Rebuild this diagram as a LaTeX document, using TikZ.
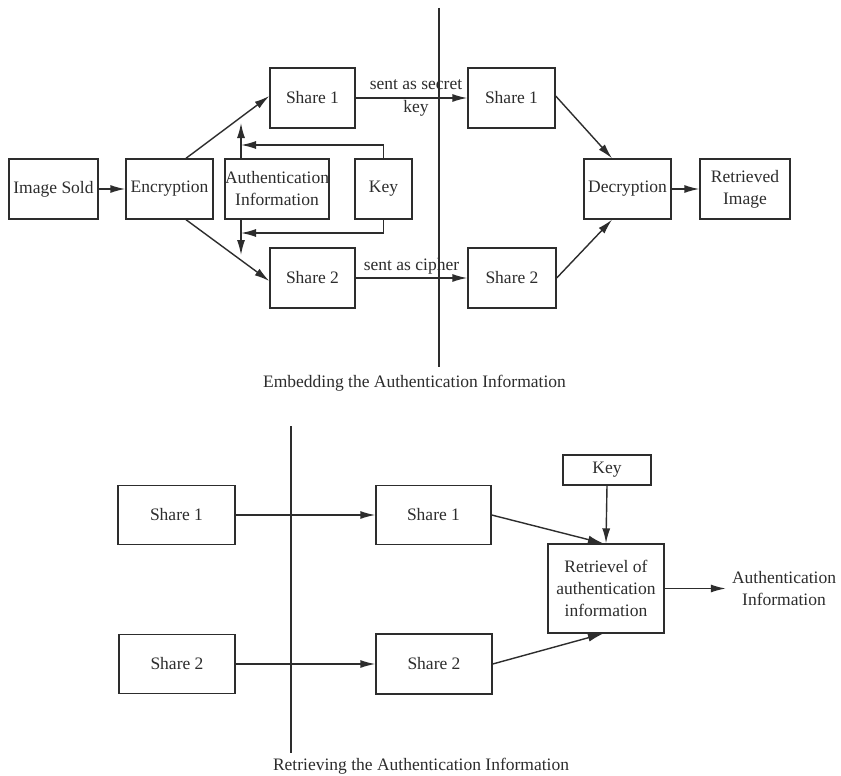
\documentclass[tikz,border=0pt]{standalone}
\usepackage{fontspec}
\setmainfont{Liberation Serif}
\usetikzlibrary{arrows.meta}
\definecolor{ink}{RGB}{45,45,45}
\begin{document}
\begin{tikzpicture}[x=1pt,y=-1pt,
  every node/.style={font=\fontsize{17.5}{22}\selectfont, text=ink},
  box/.style={draw=ink, line width=1.4pt, inner sep=0pt, align=center, minimum height=60pt},
  arr/.style={draw=ink, line width=1.4pt, -{Latex[length=15pt,width=8pt]}},
  divider/.style={draw=ink, line width=1.3pt},
  lbl/.style={inner sep=0pt, align=center},
  captext/.style={inner sep=0pt, font=\fontsize{17.5}{22}\selectfont}]
\useasboundingbox (0,0) rectangle (841,776);
\fill[white] (0,0) rectangle (841,776);

% ---------- top part ----------
\node[box, minimum width=89pt] (imgsold) at (53.5,189) {Image Sold};
\node[box, minimum width=87pt] (enc) at (169.5,189) {Encryption};
\node[box, minimum width=100pt] (auth) at (277,189) {Authentication\\Information};
\node[box, minimum width=57pt] (key1) at (383.5,189) {Key};
\node[box, minimum width=85pt] (s1a) at (312.5,98) {Share 1};
\node[box, minimum width=85pt] (s2a) at (312.5,278) {Share 2};
\node[box, minimum width=87pt] (s1b) at (511.5,98) {Share 1};
\node[box, minimum width=88pt] (s2b) at (512,278) {Share 2};
\node[box, minimum width=87pt] (dec) at (627.5,189) {Decryption};
\node[box, minimum width=90pt] (ret) at (745,189) {Retrieved\\Image};

\coordinate (vt1) at (439,8);
\coordinate (vb1) at (439,367);
\draw[divider] (vt1) -- (vb1);

\coordinate (aup) at (241,123);
\coordinate (adn) at (241,255);
\coordinate (ktop) at (241,145);
\coordinate (kbot) at (241,233);

\draw[arr] (imgsold.east) -- (enc.west);
\draw[arr] ([xshift=16.5pt]enc.north) -- ([yshift=2pt]s1a.west);
\draw[arr] ([xshift=16.5pt]enc.south) -- ([yshift=-3pt]s2a.west);
\draw[arr] (auth.north -| aup) -- (aup);
\draw[arr] (auth.south -| adn) -- (adn);
\draw[arr] (key1.north) |- (ktop);
\draw[arr] (key1.south) |- (kbot);

\draw[arr] (s1a.east) -- node[lbl, pos=0.54] {sent as secret\\[1pt]key} (s1b.west);
\draw[arr] (s2a.east) -- node[lbl, pos=0.5, above=3pt] {sent as cipher} (s2b.west);
\draw[arr] ([yshift=2pt]s1b.east) -- ([xshift=-15.5pt]dec.north);
\draw[arr] (s2b.east) -- ([xshift=-15.5pt]dec.south);
\draw[arr] (dec.east) -- (ret.west);

\node[captext] (cap1) at (414.5,383) {Embedding the Authentication Information};

% ---------- bottom part ----------
\node[box, minimum width=117pt, minimum height=59pt] (s1c) at (176.5,515) {Share 1};
\node[box, minimum width=116pt, minimum height=59pt] (s2c) at (177,664) {Share 2};
\node[box, minimum width=115pt, minimum height=59pt] (s1d) at (433.5,515) {Share 1};
\node[box, minimum width=116pt, minimum height=60pt] (s2d) at (434,664) {Share 2};
\node[box, minimum width=88pt, minimum height=30pt] (key2) at (607,470) {Key};
\node[box, minimum width=116pt, minimum height=89pt] (retr) at (606,588.5) {Retrievel of\\authentication\\information};
\node[lbl] (aout) at (784,588.5) {Authentication\\Information};

\coordinate (vt2) at (291,426);
\coordinate (vb2) at (291,753);
\draw[divider] (vt2) -- (vb2);

\draw[arr] (s1c.east) -- (s1d.west);
\draw[arr] (s2c.east) -- (s2d.west);
\draw[arr] (s1d.east) -- ([xshift=-3pt]retr.north);
\draw[arr] (s2d.east) -- ([xshift=-3pt]retr.south);
\draw[arr] (key2.south) -- (retr.north);
\draw[arr] (retr.east) -- ([xshift=-6pt]aout.west);

\node[captext] (cap2) at (421,766) {Retrieving the Authentication Information};
\end{tikzpicture}
\end{document}
